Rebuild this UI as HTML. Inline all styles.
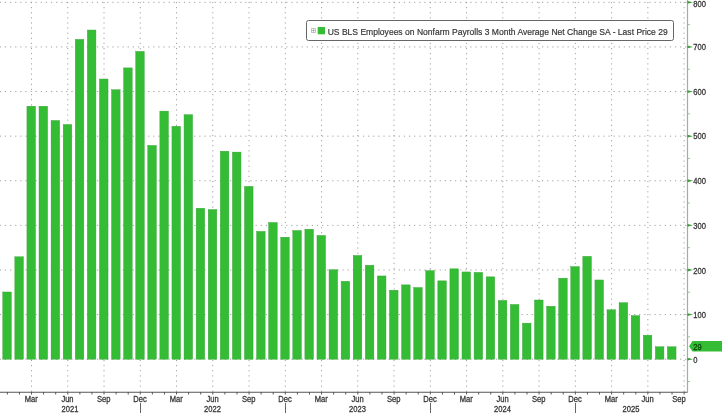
<!DOCTYPE html>
<html><head><meta charset="utf-8"><style>
html,body{margin:0;padding:0;background:#fff;width:722px;height:413px;overflow:hidden;position:relative}
</style></head><body>
<svg width="722" height="413" viewBox="0 0 722 413" style="position:absolute;left:0;top:0;filter:blur(0.35px)" font-family="Liberation Sans, sans-serif">
<path d="M0 359.20H687 M0 314.59H687 M0 269.98H687 M0 225.37H687 M0 180.76H687 M0 136.15H687 M0 91.54H687 M0 46.93H687 M0 2.32H687" stroke="#a0a0a0" stroke-width="1" stroke-dasharray="1.2 3.915" stroke-dashoffset="0.2" fill="none"/>
<path d="M31.52 0V392 M67.78 0V392 M104.03 0V392 M140.28 0V392 M176.54 0V392 M212.80 0V392 M249.05 0V392 M285.31 0V392 M321.56 0V392 M357.82 0V392 M394.07 0V392 M430.33 0V392 M466.58 0V392 M502.84 0V392 M539.09 0V392 M575.35 0V392 M611.60 0V392 M647.86 0V392 M684.11 0V392" stroke="#a0a0a0" stroke-width="1" stroke-dasharray="1.2 3.915" stroke-dashoffset="3.2" fill="none"/>
<g fill="#34bd34" stroke="#35a035" stroke-width="0.4"><rect x="2.75" y="291.98" width="8.6" height="67.22"/><rect x="14.84" y="256.79" width="8.6" height="102.41"/><rect x="26.92" y="106.21" width="8.6" height="252.99"/><rect x="39.01" y="106.21" width="8.6" height="252.99"/><rect x="51.09" y="120.47" width="8.6" height="238.73"/><rect x="63.18" y="124.48" width="8.6" height="234.72"/><rect x="75.26" y="39.39" width="8.6" height="319.81"/><rect x="87.34" y="30.03" width="8.6" height="329.17"/><rect x="99.43" y="79.03" width="8.6" height="280.17"/><rect x="111.52" y="89.73" width="8.6" height="269.47"/><rect x="123.60" y="67.90" width="8.6" height="291.30"/><rect x="135.69" y="51.41" width="8.6" height="307.79"/><rect x="147.77" y="145.41" width="8.6" height="213.79"/><rect x="159.86" y="111.11" width="8.6" height="248.09"/><rect x="171.94" y="126.26" width="8.6" height="232.94"/><rect x="184.03" y="114.67" width="8.6" height="244.53"/><rect x="196.11" y="208.23" width="8.6" height="150.97"/><rect x="208.20" y="209.57" width="8.6" height="149.63"/><rect x="220.28" y="151.21" width="8.6" height="207.99"/><rect x="232.37" y="152.10" width="8.6" height="207.10"/><rect x="244.45" y="186.40" width="8.6" height="172.80"/><rect x="256.54" y="231.40" width="8.6" height="127.80"/><rect x="268.62" y="222.49" width="8.6" height="136.71"/><rect x="280.71" y="237.19" width="8.6" height="122.01"/><rect x="292.79" y="230.50" width="8.6" height="128.69"/><rect x="304.88" y="229.17" width="8.6" height="130.03"/><rect x="316.96" y="235.41" width="8.6" height="123.79"/><rect x="329.05" y="269.71" width="8.6" height="89.49"/><rect x="341.13" y="281.29" width="8.6" height="77.91"/><rect x="353.22" y="255.45" width="8.6" height="103.75"/><rect x="365.30" y="265.25" width="8.6" height="93.95"/><rect x="377.39" y="275.95" width="8.6" height="83.25"/><rect x="389.47" y="290.20" width="8.6" height="69.00"/><rect x="401.56" y="284.86" width="8.6" height="74.34"/><rect x="413.64" y="287.53" width="8.6" height="71.67"/><rect x="425.73" y="270.60" width="8.6" height="88.60"/><rect x="437.81" y="280.85" width="8.6" height="78.35"/><rect x="449.90" y="268.82" width="8.6" height="90.38"/><rect x="461.98" y="271.94" width="8.6" height="87.26"/><rect x="474.07" y="272.38" width="8.6" height="86.82"/><rect x="486.15" y="276.84" width="8.6" height="82.36"/><rect x="498.24" y="300.45" width="8.6" height="58.75"/><rect x="510.32" y="304.46" width="8.6" height="54.74"/><rect x="522.41" y="323.17" width="8.6" height="36.03"/><rect x="534.49" y="300.00" width="8.6" height="59.20"/><rect x="546.58" y="306.24" width="8.6" height="52.96"/><rect x="558.66" y="278.17" width="8.6" height="81.03"/><rect x="570.75" y="266.59" width="8.6" height="92.61"/><rect x="582.83" y="256.34" width="8.6" height="102.86"/><rect x="594.92" y="279.96" width="8.6" height="79.24"/><rect x="607.00" y="309.80" width="8.6" height="49.40"/><rect x="619.09" y="302.68" width="8.6" height="56.52"/><rect x="631.17" y="315.60" width="8.6" height="43.60"/><rect x="643.25" y="335.20" width="8.6" height="24.00"/><rect x="655.34" y="346.78" width="8.6" height="12.42"/><rect x="667.43" y="346.78" width="8.6" height="12.42"/></g>
<path d="M0 392.2H687.5" stroke="#555" stroke-width="1.1" fill="none"/>
<path d="M7.35 392V394.5 M19.44 392V394.5 M31.52 392V394.5 M43.61 392V394.5 M55.69 392V394.5 M67.78 392V394.5 M79.86 392V394.5 M91.94 392V394.5 M104.03 392V394.5 M116.12 392V394.5 M128.20 392V394.5 M140.28 392V394.5 M152.37 392V394.5 M164.46 392V394.5 M176.54 392V394.5 M188.62 392V394.5 M200.71 392V394.5 M212.80 392V394.5 M224.88 392V394.5 M236.97 392V394.5 M249.05 392V394.5 M261.14 392V394.5 M273.22 392V394.5 M285.31 392V394.5 M297.39 392V394.5 M309.48 392V394.5 M321.56 392V394.5 M333.65 392V394.5 M345.73 392V394.5 M357.82 392V394.5 M369.90 392V394.5 M381.99 392V394.5 M394.07 392V394.5 M406.16 392V394.5 M418.24 392V394.5 M430.33 392V394.5 M442.41 392V394.5 M454.50 392V394.5 M466.58 392V394.5 M478.67 392V394.5 M490.75 392V394.5 M502.84 392V394.5 M514.92 392V394.5 M527.01 392V394.5 M539.09 392V394.5 M551.18 392V394.5 M563.26 392V394.5 M575.35 392V394.5 M587.43 392V394.5 M599.52 392V394.5 M611.60 392V394.5 M623.69 392V394.5 M635.77 392V394.5 M647.86 392V394.5 M659.94 392V394.5 M672.03 392V394.5 M684.11 392V394.5" stroke="#555" stroke-width="1" fill="none"/>
<g><text transform="translate(31.22 401.60) scale(0.87 1)" text-anchor="middle" font-size="8.7" fill="#363636" stroke="#363636" stroke-width="0.3">Mar</text><text transform="translate(67.48 401.60) scale(0.87 1)" text-anchor="middle" font-size="8.7" fill="#363636" stroke="#363636" stroke-width="0.3">Jun</text><text transform="translate(103.73 401.60) scale(0.87 1)" text-anchor="middle" font-size="8.7" fill="#363636" stroke="#363636" stroke-width="0.3">Sep</text><text transform="translate(139.99 401.60) scale(0.87 1)" text-anchor="middle" font-size="8.7" fill="#363636" stroke="#363636" stroke-width="0.3">Dec</text><text transform="translate(176.24 401.60) scale(0.87 1)" text-anchor="middle" font-size="8.7" fill="#363636" stroke="#363636" stroke-width="0.3">Mar</text><text transform="translate(212.50 401.60) scale(0.87 1)" text-anchor="middle" font-size="8.7" fill="#363636" stroke="#363636" stroke-width="0.3">Jun</text><text transform="translate(248.75 401.60) scale(0.87 1)" text-anchor="middle" font-size="8.7" fill="#363636" stroke="#363636" stroke-width="0.3">Sep</text><text transform="translate(285.01 401.60) scale(0.87 1)" text-anchor="middle" font-size="8.7" fill="#363636" stroke="#363636" stroke-width="0.3">Dec</text><text transform="translate(321.26 401.60) scale(0.87 1)" text-anchor="middle" font-size="8.7" fill="#363636" stroke="#363636" stroke-width="0.3">Mar</text><text transform="translate(357.52 401.60) scale(0.87 1)" text-anchor="middle" font-size="8.7" fill="#363636" stroke="#363636" stroke-width="0.3">Jun</text><text transform="translate(393.77 401.60) scale(0.87 1)" text-anchor="middle" font-size="8.7" fill="#363636" stroke="#363636" stroke-width="0.3">Sep</text><text transform="translate(430.03 401.60) scale(0.87 1)" text-anchor="middle" font-size="8.7" fill="#363636" stroke="#363636" stroke-width="0.3">Dec</text><text transform="translate(466.28 401.60) scale(0.87 1)" text-anchor="middle" font-size="8.7" fill="#363636" stroke="#363636" stroke-width="0.3">Mar</text><text transform="translate(502.54 401.60) scale(0.87 1)" text-anchor="middle" font-size="8.7" fill="#363636" stroke="#363636" stroke-width="0.3">Jun</text><text transform="translate(538.79 401.60) scale(0.87 1)" text-anchor="middle" font-size="8.7" fill="#363636" stroke="#363636" stroke-width="0.3">Sep</text><text transform="translate(575.04 401.60) scale(0.87 1)" text-anchor="middle" font-size="8.7" fill="#363636" stroke="#363636" stroke-width="0.3">Dec</text><text transform="translate(611.30 401.60) scale(0.87 1)" text-anchor="middle" font-size="8.7" fill="#363636" stroke="#363636" stroke-width="0.3">Mar</text><text transform="translate(647.55 401.60) scale(0.87 1)" text-anchor="middle" font-size="8.7" fill="#363636" stroke="#363636" stroke-width="0.3">Jun</text><text transform="translate(679.00 401.60) scale(0.87 1)" text-anchor="middle" font-size="8.7" fill="#363636" stroke="#363636" stroke-width="0.3">Sep</text></g>
<path d="M140.5 403V413 M285.5 403V413 M430.5 403V413 M575.5 403V413" stroke="#666" stroke-width="1" fill="none"/>
<g><text transform="translate(69.99 411.60) scale(0.87 1)" text-anchor="middle" font-size="8.7" fill="#363636" stroke="#363636" stroke-width="0.3">2021</text><text transform="translate(212.50 411.60) scale(0.87 1)" text-anchor="middle" font-size="8.7" fill="#363636" stroke="#363636" stroke-width="0.3">2022</text><text transform="translate(357.52 411.60) scale(0.87 1)" text-anchor="middle" font-size="8.7" fill="#363636" stroke="#363636" stroke-width="0.3">2023</text><text transform="translate(502.53 411.60) scale(0.87 1)" text-anchor="middle" font-size="8.7" fill="#363636" stroke="#363636" stroke-width="0.3">2024</text><text transform="translate(631.02 411.60) scale(0.87 1)" text-anchor="middle" font-size="8.7" fill="#363636" stroke="#363636" stroke-width="0.3">2025</text></g>
<path d="M687.5 0V393" stroke="#8cbc8c" stroke-width="1.2" fill="none"/>
<path d="M687.5 357.80L693 359.20L687.5 360.60Z M687.5 313.19L693 314.59L687.5 315.99Z M687.5 268.58L693 269.98L687.5 271.38Z M687.5 223.97L693 225.37L687.5 226.77Z M687.5 179.36L693 180.76L687.5 182.16Z M687.5 134.75L693 136.15L687.5 137.55Z M687.5 90.14L693 91.54L687.5 92.94Z M687.5 45.53L693 46.93L687.5 48.33Z M687.5 0.92L693 2.32L687.5 3.72Z" fill="#3f9a3f"/>
<path d="M688 381.50H690 M688 336.89H690 M688 292.28H690 M688 247.67H690 M688 203.06H690 M688 158.45H690 M688 113.84H690 M688 69.24H690 M688 24.62H690" stroke="#9dc39d" stroke-width="1"/>
<g><text transform="translate(693.30 363.10) scale(0.87 1)" text-anchor="start" font-size="8.7" fill="#363636" stroke="#363636" stroke-width="0.3">0</text><text transform="translate(693.30 318.31) scale(0.87 1)" text-anchor="start" font-size="8.7" fill="#363636" stroke="#363636" stroke-width="0.3">100</text><text transform="translate(693.30 273.53) scale(0.87 1)" text-anchor="start" font-size="8.7" fill="#363636" stroke="#363636" stroke-width="0.3">200</text><text transform="translate(693.30 228.74) scale(0.87 1)" text-anchor="start" font-size="8.7" fill="#363636" stroke="#363636" stroke-width="0.3">300</text><text transform="translate(693.30 183.86) scale(0.87 1)" text-anchor="start" font-size="8.7" fill="#363636" stroke="#363636" stroke-width="0.3">400</text><text transform="translate(693.30 139.25) scale(0.87 1)" text-anchor="start" font-size="8.7" fill="#363636" stroke="#363636" stroke-width="0.3">500</text><text transform="translate(693.30 94.64) scale(0.87 1)" text-anchor="start" font-size="8.7" fill="#363636" stroke="#363636" stroke-width="0.3">600</text><text transform="translate(693.30 50.03) scale(0.87 1)" text-anchor="start" font-size="8.7" fill="#363636" stroke="#363636" stroke-width="0.3">700</text><text transform="translate(693.30 7.00) scale(0.87 1)" text-anchor="start" font-size="8.7" fill="#363636" stroke="#363636" stroke-width="0.3">800</text></g>
<path d="M689 346.26L692.5 341.06H722V351.46H692.5Z" fill="#34bd34"/>
<text transform="translate(693.30 349.66) scale(0.87 1)" text-anchor="start" font-size="8.7" fill="#0b4d0b" stroke="#0b4d0b" stroke-width="0.3">29</text>
<rect x="306.5" y="20.5" width="367" height="20" rx="2" fill="#fff" stroke="#666" stroke-width="1"/>
<path d="M311.5 28.5h4v4h-4zM313.5 28.5v4M311.5 30.5h4" stroke="#999" stroke-width="0.6" fill="none"/>
<rect x="317.7" y="27" width="7.3" height="7.3" fill="#34bd34"/>
<text x="327.7" y="34.6" font-size="9.5" fill="#363636" stroke="#363636" stroke-width="0.2" textLength="340" lengthAdjust="spacingAndGlyphs">US BLS Employees on Nonfarm Payrolls 3 Month Average Net Change SA - Last Price 29</text>
</svg>
</body></html>
